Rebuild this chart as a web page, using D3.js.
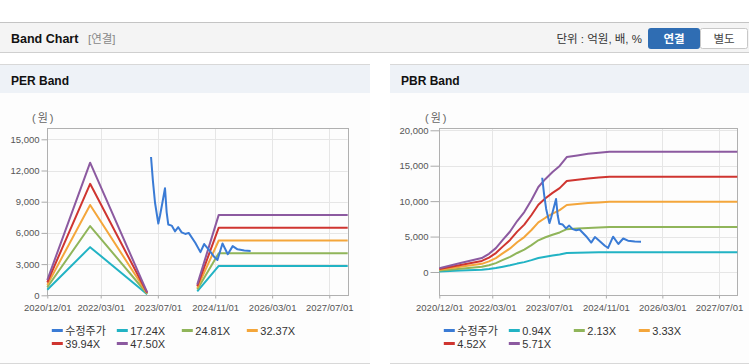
<!DOCTYPE html>
<html>
<head>
<meta charset="utf-8">
<script src="https://cdn.jsdelivr.net/npm/d3@7"></script>
<style>
    body { margin: 0; background: #fff; font-family: "Liberation Sans", Arial, "Noto Sans CJK KR", sans-serif; }
    svg { display: block; }
    .tick text { fill: #555; font-size: 9.5px; }
</style>
</head>
<body>
<svg id="chart"></svg>
<script>
'use strict';

// 수정주가 (adjusted price), shared by both panels
const priceDates = ['2023-05-04', '2023-05-20', '2023-06-07', '2023-07-05', '2023-07-20', '2023-08-08', '2023-08-31',
    '2023-09-14', '2023-09-28', '2023-10-27', '2023-11-24', '2023-12-22', '2024-01-20', '2024-02-20', '2024-03-20',
    '2024-05-15', '2024-06-28', '2024-07-30', '2024-09-10', '2024-10-23', '2024-11-20', '2025-01-02', '2025-02-16',
    '2025-03-30', '2025-05-10', '2025-07-07', '2025-08-30'];
const priceValues = [13300, 11000, 8900, 6900, 7700, 8850, 10300,
    8000, 6800, 6700, 6150, 6550, 6050, 5900, 6000,
    5050, 4150, 4930, 4350, 3700, 3400, 4980, 3950,
    4730, 4420, 4300, 4270];

// PER band (null = no data)
const perDates = ['2020-12-01', '2021-12-01', '2023-04-01', '2023-10-01', '2024-06-01', '2024-12-01', '2027-12-05'];
const perLabels = ['수정주가', '17.24X', '24.81X', '32.37X', '39.94X', '47.50X'];
const per1724 = [530, 4630, 100, null, 380, 2820, 2820];
const per2481 = [770, 6660, 150, null, 550, 4050, 4050];
const per3237 = [1000, 8690, 190, null, 710, 5270, 5270];
const per3994 = [1240, 10720, 240, null, 880, 6500, 6500];
const per4750 = [1470, 12750, 285, null, 1040, 7730, 7730];
const perTicks = [0, 3000, 6000, 9000, 12000, 15000];

// PBR band
const pbrDates = ['2020-12-01', '2021-06-01', '2021-12-01', '2022-02-01', '2022-04-01', '2022-06-01', '2022-08-01',
    '2022-10-01', '2022-12-01', '2023-02-01', '2023-04-01', '2023-06-01', '2023-08-01', '2023-10-01', '2023-12-01',
    '2024-03-01', '2024-06-01', '2024-09-01', '2024-12-01', '2027-12-05'];
const pbrLabels = ['수정주가', '0.94X', '2.13X', '3.33X', '4.52X', '5.71X'];
const pbr094 = [86, 207, 324, 423, 555, 752, 940, 1184, 1391, 1673, 1974, 2162, 2322, 2463, 2670, 2707, 2745, 2773, 2797, 2797];
const pbr213 = [196, 469, 735, 959, 1257, 1704, 2130, 2684, 3152, 3791, 4473, 4899, 5261, 5581, 6049, 6134, 6220, 6284, 6337, 6337];
const pbr333 = [306, 733, 1149, 1499, 1965, 2664, 3330, 4196, 4928, 5927, 6993, 7659, 8225, 8725, 9457, 9590, 9724, 9824, 9907, 9907];
const pbr452 = [416, 994, 1559, 2034, 2667, 3616, 4520, 5695, 6690, 8046, 9492, 10396, 11164, 11842, 12837, 13018, 13198, 13334, 13447, 13447];
const pbr571 = [525, 1256, 1970, 2570, 3369, 4568, 5710, 7195, 8451, 10164, 11991, 13133, 14104, 14960, 16216, 16445, 16673, 16845, 16987, 16987];
const pbrTicks = [0, 5000, 10000, 15000, 20000];

const xTickDates = ['2020-12-01', '2022-03-01', '2023-07-01', '2024-11-01', '2026-03-01', '2027-07-01'];
const seriesColors = ['#3a7bd5', '#22b3c4', '#90b55a', '#f4a63b', '#cf3530', '#8c5aa0'];

const parseDate = d3.timeParse('%Y-%m-%d');
const plotTop = 128.3;
const plotBottom = 295.3;

const svg = d3.select('#chart').attr('width', 749).attr('height', 364);

function renderHeader() {
    svg.append('rect').attr('x', 0).attr('y', 22).attr('width', 749).attr('height', 31).attr('fill', '#f4f4f4');
    svg.append('line').attr('x1', 0).attr('x2', 749).attr('y1', 22.5).attr('y2', 22.5).attr('stroke', '#c4c4c4');
    svg.append('line').attr('x1', 0).attr('x2', 749).attr('y1', 52.5).attr('y2', 52.5).attr('stroke', '#cfcfcf');

    svg.append('text').attr('x', 11).attr('y', 43).attr('font-size', 12.5).attr('font-weight', 'bold')
        .attr('fill', '#111').text('Band Chart');
    svg.append('text').attr('x', 88).attr('y', 43).attr('font-size', 11.5).attr('fill', '#888').text('[연결]');
    svg.append('text').attr('x', 642).attr('y', 43).attr('font-size', 11.5).attr('text-anchor', 'end')
        .attr('fill', '#333').text('단위 : 억원, 배, %');

    svg.append('rect').attr('x', 700.5).attr('y', 28.5).attr('width', 47).attr('height', 20).attr('rx', 2)
        .attr('fill', '#fff').attr('stroke', '#c8c8c8');
    svg.append('rect').attr('x', 648).attr('y', 28).attr('width', 52).attr('height', 21).attr('rx', 3).attr('fill', '#2f6db3');
    svg.append('text').attr('x', 674).attr('y', 43).attr('font-size', 11.5).attr('font-weight', 'bold')
        .attr('text-anchor', 'middle').attr('fill', '#fff').text('연결');
    svg.append('text').attr('x', 724).attr('y', 43).attr('font-size', 11.5).attr('text-anchor', 'middle')
        .attr('fill', '#444').text('별도');
}

function toPoints(dates, values) {
    return dates.map((d, i) => ({date: parseDate(d), value: values[i]}));
}

function renderPanel(p) {
    const g = svg.append('g');
    const right = p.left + p.width;

    g.append('rect').attr('x', p.left).attr('y', 65).attr('width', p.width).attr('height', 298).attr('fill', '#fdfdfd');
    g.append('rect').attr('x', p.left).attr('y', 65).attr('width', p.width).attr('height', 28).attr('fill', '#eef2f7');
    g.append('line').attr('x1', p.left).attr('x2', right).attr('y1', 64.5).attr('y2', 64.5).attr('stroke', '#d8d8d8');
    g.append('line').attr('x1', p.left).attr('x2', right).attr('y1', 363.5).attr('y2', 363.5).attr('stroke', '#d8d8d8');
    g.append('text').attr('x', p.left + 11).attr('y', 85).attr('font-size', 12).attr('font-weight', 'bold')
        .attr('fill', '#111').text(p.title);
    g.append('text').attr('x', p.unitX).attr('y', 122).attr('font-size', 11).attr('letter-spacing', 2)
        .attr('fill', '#666').text('(원)');

    const xScale = d3.scaleTime()
        .domain([parseDate('2020-12-01'), parseDate('2027-12-05')])
        .range([p.plotLeft, p.plotRight]);
    const yScale = d3.scaleLinear().domain(p.yDomain).range([plotBottom, plotTop]);

    // grid
    g.append('g').selectAll('line').data(p.yTicks).enter().append('line')
        .attr('x1', p.plotLeft).attr('x2', p.plotRight)
        .attr('y1', d => Math.round(yScale(d)) + 0.5).attr('y2', d => Math.round(yScale(d)) + 0.5)
        .attr('stroke', '#e6e6e6');
    g.append('g').selectAll('line').data(xTickDates.map(parseDate)).enter().append('line')
        .attr('x1', d => Math.round(xScale(d)) + 0.5).attr('x2', d => Math.round(xScale(d)) + 0.5)
        .attr('y1', plotTop).attr('y2', plotBottom)
        .attr('stroke', '#e6e6e6');

    const yAxis = d3.axisLeft(yScale).tickValues(p.yTicks).tickSize(p.yTickSize).tickPadding(2)
        .tickFormat(d3.format(','));
    const yg = g.append('g').attr('transform', `translate(${Math.round(p.plotLeft) + 0.5},0)`).call(yAxis);
    yg.select('.domain').remove();
    yg.selectAll('.tick line').attr('stroke', '#aaa');

    const xAxis = d3.axisBottom(xScale).tickValues(xTickDates.map(parseDate)).tickSize(3).tickPadding(6)
        .tickFormat(d3.timeFormat('%Y/%m/%d'));
    const xg = g.append('g').attr('transform', `translate(0,${Math.round(plotBottom) + 0.5})`).call(xAxis);
    xg.select('.domain').remove();
    xg.selectAll('.tick line').attr('stroke', '#aaa');

    g.append('rect')
        .attr('x', Math.round(p.plotLeft) + 0.5).attr('y', Math.round(plotTop) + 0.5)
        .attr('width', Math.round(p.plotRight) - Math.round(p.plotLeft))
        .attr('height', Math.round(plotBottom) - Math.round(plotTop))
        .attr('fill', 'none').attr('stroke', '#b0b0b0');

    const line = d3.line()
        .defined(d => d.value !== null)
        .x(d => xScale(d.date))
        .y(d => yScale(d.value));

    p.bands.forEach((values, i) => {
        g.append('path')
            .datum(toPoints(p.dates, values))
            .attr('d', line)
            .attr('fill', 'none')
            .attr('stroke', seriesColors[i + 1])
            .attr('stroke-width', 2)
            .attr('stroke-linejoin', 'round');
    });

    g.append('path')
        .datum(toPoints(priceDates, priceValues))
        .attr('d', line)
        .attr('fill', 'none')
        .attr('stroke', seriesColors[0])
        .attr('stroke-width', 2)
        .attr('stroke-linejoin', 'round');

    // legend, 4 columns
    const colOffsets = [4.5, 69.5, 134.5, 199.5];
    p.labels.forEach((label, i) => {
        const lx = p.plotLeft + colOffsets[i % 4];
        const ly = i < 4 ? 330.5 : 343.5;
        g.append('line').attr('x1', lx).attr('x2', lx + 11).attr('y1', ly).attr('y2', ly)
            .attr('stroke', seriesColors[i]).attr('stroke-width', 3);
        g.append('text').attr('x', lx + 13.5).attr('y', ly + 4).attr('font-size', 11)
            .attr('fill', '#333').text(label);
    });
}

renderHeader();

renderPanel({
    title: 'PER Band',
    left: 0,
    width: 370,
    unitX: 32,
    plotLeft: 47.3,
    plotRight: 347.7,
    yDomain: [0, 16058],
    yTicks: perTicks,
    yTickSize: 6,
    dates: perDates,
    bands: [per1724, per2481, per3237, per3994, per4750],
    labels: perLabels
});

renderPanel({
    title: 'PBR Band',
    left: 390,
    width: 359,
    unitX: 425,
    plotLeft: 439.3,
    plotRight: 737.3,
    yDomain: [-3290, 20280],
    yTicks: pbrTicks,
    yTickSize: 9,
    dates: pbrDates,
    bands: [pbr094, pbr213, pbr333, pbr452, pbr571],
    labels: pbrLabels
});
</script>
</body>
</html>
